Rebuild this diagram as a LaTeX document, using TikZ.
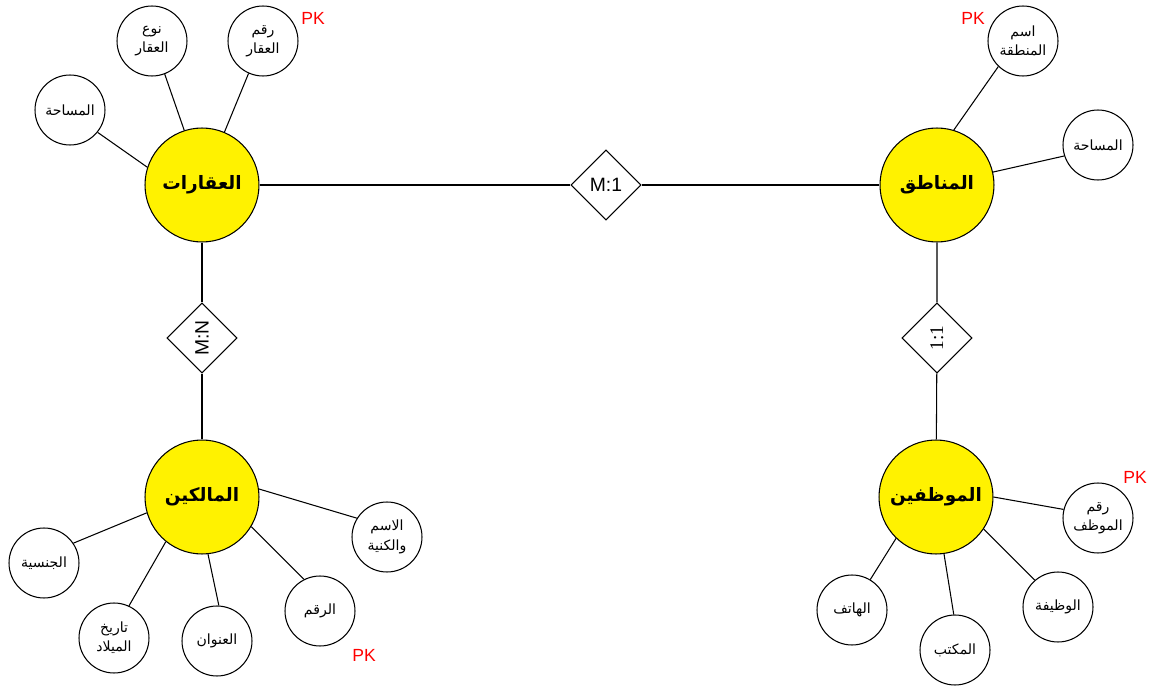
\documentclass[tikz,border=0pt]{standalone}
\usepackage{fontspec}
\setmainfont{Liberation Sans}
\newfontfamily\arabicfont[Script=Arabic]{DejaVu Sans}
\newfontfamily\numserif{Liberation Serif}
\TeXXeTstate=1
\usetikzlibrary{shapes.geometric}

\newcommand{\artext}[1]{\beginR #1\endR}

\tikzset{
	entity/.style = {circle, draw, fill = yellow, minimum size = 2.28cm, inner sep = 0pt,
		font = \arabicfont\bfseries\fontsize{10.5}{13}\selectfont},
	attrib/.style = {circle, draw, fill = white, minimum size = 1.4cm, inner sep = 0pt,
		align = center, font = \arabicfont\fontsize{8}{11}\selectfont},
	relation/.style = {diamond, draw, fill = white, minimum width = 1.4cm,
		minimum height = 1.4cm, inner sep = 0pt, font = \fontsize{11}{13}\selectfont},
	pk/.style = {text = red, font = \fontsize{10}{12}\selectfont},
}

\begin{document}
\begin{tikzpicture}[x = 0.02cm, y = -0.02cm, line width = 0.6pt]
		\useasboundingbox (0, 0) rectangle (1154, 686);
		
		% entities
		\node [entity] (aqarat) at (202, 185) {\artext{العقارات}};
		\node [entity] (manatiq) at (937, 185) {\artext{المناطق}};
		\node [entity] (malikin) at (202, 497) {\artext{المالكين}};
		\node [entity] (muwazafin) at (936, 497) {\artext{الموظفين}};
		
		% relations
		\node [relation] (rel m1) at (606, 185) {M:1};
		\node [relation, rotate = 90] (rel mn) at (202, 338) {M:N};
		\node [relation, rotate = 90, font = \numserif\fontsize{11}{13}\selectfont] (rel 11) at (937, 338) {1:1};
		
		\draw (aqarat) -- (rel m1) -- (manatiq);
		\draw (aqarat) -- (rel mn) -- (malikin);
		\draw (manatiq) -- (rel 11) -- (muwazafin);
		
		% attributes of aqarat
		\node [attrib] (aqarat area) at (70, 110) {\artext{المساحة}};
		\node [attrib] (aqarat type) at (152, 41) {\artext{نوع}\\\artext{العقار}};
		\node [attrib] (aqarat id) at (263, 41) {\artext{رقم}\\\artext{العقار}};
		\node [pk] at (313, 18) {PK};
		
		% attributes of manatiq
		\node [attrib] (manatiq name) at (1023, 41) {\artext{اسم}\\\artext{المنطقة}};
		\node [attrib] (manatiq area) at (1098, 145) {\artext{المساحة}};
		\node [pk] at (973, 18) {PK};
		
		% attributes of malikin
		\node [attrib] (malikin name) at (387, 537) {\artext{الاسم}\\\artext{والكنية}};
		\node [attrib] (malikin id) at (320, 611) {\artext{الرقم}};
		\node [attrib] (malikin address) at (217, 641) {\artext{العنوان}};
		\node [attrib] (malikin birth) at (114, 638) {\artext{تاريخ}\\\artext{الميلاد}};
		\node [attrib] (malikin nation) at (44, 563) {\artext{الجنسية}};
		\node [pk] at (364, 655) {PK};
		
		% attributes of muwazafin
		\node [attrib] (muwazafin id) at (1098, 518) {\artext{رقم}\\\artext{الموظف}};
		\node [attrib] (muwazafin job) at (1058, 607) {\artext{الوظيفة}};
		\node [attrib] (muwazafin office) at (955, 650) {\artext{المكتب}};
		\node [attrib] (muwazafin phone) at (852, 610) {\artext{الهاتف}};
		\node [pk] at (1135, 477) {PK};
		
		% links: entity/angle/attribute/angle
		\foreach \e/\i/\a/\j in {aqarat/162/area/321, aqarat/108/type/291, aqarat/67/id/246,
				manatiq/73/name/226, manatiq/13/area/198,
				malikin/8/name/148, malikin/329/id/117, malikin/276/address/87,
				malikin/231/birth/65, malikin/196/nation/34,
				muwazafin/0/id/166, muwazafin/326/job/131, muwazafin/278/office/92,
				muwazafin/226/phone/59}
			\draw (\e.\i) -- (\e\space\a.\j);
	\end{tikzpicture}
\end{document}
